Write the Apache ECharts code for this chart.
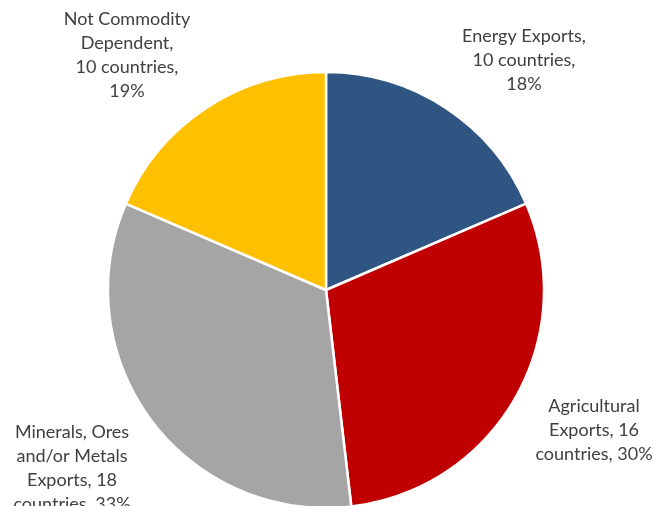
<!DOCTYPE html>
<html>
<head>
<meta charset="utf-8">
<script src="https://cdn.jsdelivr.net/npm/echarts@6/dist/echarts.min.js"></script>
<style>
  html, body { margin: 0; padding: 0; background: #ffffff; }
  #chart { width: 654px; height: 506px; }
</style>
</head>
<body>
<div id="chart"></div>
<script>
// Country groups by export dependence
const categories = [
  'Energy Exports',
  'Agricultural Exports',
  'Minerals, Ores and/or Metals Exports',
  'Not Commodity Dependent'
];
const countries = [10, 16, 18, 10];
const shareLabels = ['18%', '30%', '33%', '19%'];
const colors = ['#2F5583', '#C00000', '#A5A5A5', '#FFC000'];

// Wrapped label text for each slice
function labelText(i) {
  const n = countries[i], s = shareLabels[i];
  switch (i) {
    case 0: return 'Energy Exports,\n' + n + ' countries,\n' + s;
    case 1: return 'Agricultural\nExports, ' + n + '\ncountries, ' + s;
    case 2: return 'Minerals, Ores\nand/or Metals\nExports, ' + n + '\ncountries, ' + s;
    default: return 'Not Commodity\nDependent,\n' + n + ' countries,\n' + s;
  }
}

// Label anchor points (centre of each text block)
const labelAnchors = [
  [524, 60],
  [594, 430],
  [72, 468],
  [127, 55]
];

const chart = echarts.init(document.getElementById('chart'), null, { renderer: 'canvas' });

chart.setOption({
  animation: false,
  backgroundColor: '#ffffff',
  series: [{
    type: 'pie',
    center: [326, 290],
    radius: [0, 218],
    startAngle: 90,
    clockwise: true,
    avoidLabelOverlap: false,
    itemStyle: { borderColor: '#ffffff', borderWidth: 2.5 },
    label: {
      show: true,
      position: 'outside',
      color: '#404040',
      fontFamily: 'Lato, "Liberation Sans", sans-serif',
      fontSize: 18,
      lineHeight: 24,
      align: 'center',
      formatter: p => labelText(p.dataIndex)
    },
    labelLine: { show: false },
    labelLayout: p => ({
      x: labelAnchors[p.dataIndex][0],
      y: labelAnchors[p.dataIndex][1],
      align: 'center',
      verticalAlign: 'middle'
    }),
    emphasis: { disabled: true },
    data: categories.map((name, i) => ({
      name: name,
      value: countries[i],
      itemStyle: { color: colors[i] }
    }))
  }]
});
</script>
</body>
</html>
